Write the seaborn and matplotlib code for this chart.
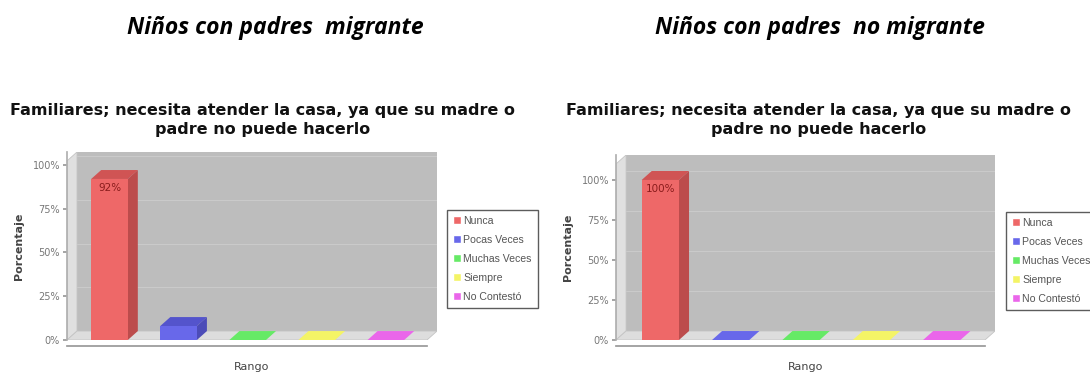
import matplotlib
matplotlib.use("Agg")
import matplotlib.pyplot as plt
from matplotlib.patches import Polygon, Rectangle
import seaborn as sns
import pandas as pd

categories = ["Nunca", "Pocas Veces", "Muchas Veces", "Siempre", "No Contestó"]
migrante = [92, 8, 0, 0, 0]
no_migrante = [100, 0, 0, 0, 0]
headings = ["Niños con padres  migrante", "Niños con padres  no migrante"]
chart_title = "Familiares; necesita atender la casa, ya que su madre o\npadre no puede hacerlo"
yticks = [0, 25, 50, 75, 100]

front_colors = ["#ee6868", "#6868ea", "#66ea66", "#f4f466", "#ea66ea"]
side_colors = ["#bc4c4c", "#4c4cb8", "#4cb84c", "#c8c84c", "#b84cb8"]
top_colors = ["#d05454", "#5454cc", "#54cc54", "#dcdc54", "#cc54cc"]

sns.set_theme(style="white")
plt.rcParams['font.family'] = ['DejaVu Sans']

fig = plt.figure(figsize=(10.9, 3.74), dpi=100)
W, H = 1090, 374


def px_axes(x0, x1, ytop, ybot):
    return fig.add_axes([x0 / W, 1 - ybot / H, (x1 - x0) / W, (ybot - ytop) / H])


def draw_panel(ax, values, xmin, xmax, ymax, dx, dy, legend_xy, label_color="#8a1c1c"):
    df = pd.DataFrame({"Rango": categories, "Porcentaje": values})
    sns.barplot(data=df, x="Rango", y="Porcentaje", hue="Rango", palette=front_colors,
                width=0.53, dodge=False, legend=True, ax=ax, zorder=3, saturation=1)
    bars = [b for c in ax.containers for b in c]
    # walls
    ax.add_patch(Rectangle((xmin + dx, dy), xmax - xmin - dx, ymax - dy,
                           facecolor="#bdbdbd", edgecolor="none", zorder=0))
    ax.add_patch(Polygon([(xmin, 0), (xmin + dx, dy), (xmin + dx, ymax), (xmin, ymax - dy)],
                         closed=True, facecolor="#e0e0e0", edgecolor="#c4c4c4", lw=0.6, zorder=0.5))
    ax.add_patch(Polygon([(xmin, 0), (xmax - dx, 0), (xmax, dy), (xmin + dx, dy)],
                         closed=True, facecolor="#dddddd", edgecolor="#c4c4c4", lw=0.6, zorder=0.5))
    for t in yticks[1:]:
        if t + dy < ymax:
            ax.plot([xmin + dx, xmax], [t + dy, t + dy], color="#cacaca", lw=0.8, zorder=0.6)
    for b in bars:
        x0, w, h = b.get_x(), b.get_width(), b.get_height()
        i = int(round(x0 + w / 2))
        b.set_edgecolor("none")
        ax.add_patch(Polygon([(x0, h), (x0 + dx, h + dy), (x0 + w + dx, h + dy), (x0 + w, h)],
                             closed=True, facecolor=top_colors[i] if h > 0 else front_colors[i],
                             edgecolor="none", zorder=2.9))
        if h > 0:
            ax.add_patch(Polygon([(x0 + w, 0), (x0 + w + dx, dy), (x0 + w + dx, h + dy), (x0 + w, h)],
                                 closed=True, facecolor=side_colors[i], edgecolor="none", zorder=2.9))
    top = values[0]
    ax.text(0, top - 2.5, f"{top}%", ha="center", va="top", fontsize=7.5, color=label_color, zorder=4)
    ax.set_xlim(xmin, xmax)
    ax.set_ylim(0, ymax)
    ax.set_yticks(yticks)
    ax.set_yticklabels([f"{t}%" for t in yticks], fontsize=7, color="#777777")
    ax.set_xticks([])
    ax.tick_params(axis="y", length=3, color="#999999", left=True, pad=2)
    ax.set_xlabel("Rango", fontsize=8, color="#444444", labelpad=12)
    ax.set_ylabel("Porcentaje", fontsize=8, color="#444444", fontweight="bold", labelpad=6)
    ax.set_facecolor("white")
    for s in ["top", "right"]:
        ax.spines[s].set_visible(False)
    ax.spines["left"].set_color("#b0b0b0")
    ax.spines["bottom"].set_color("#999999")
    ax.spines["bottom"].set_position(("outward", 4))
    ax.spines["bottom"].set_bounds(xmin, xmax - dx)
    handles, labels = ax.get_legend_handles_labels()
    leg = ax.legend(handles, labels, loc="upper left", bbox_to_anchor=legend_xy,
                    bbox_transform=fig.transFigure, frameon=True,
                    handlelength=0.8, handleheight=0.8, handletextpad=0.2,
                    borderpad=0.55, labelspacing=0.85, fancybox=False, borderaxespad=0,
                    prop={"family": ["Liberation Sans", "DejaVu Sans"], "size": 7.6})
    leg.get_frame().set_edgecolor("#333333")
    leg.get_frame().set_linewidth(1.0)
    for t in leg.get_texts():
        t.set_color("#555555")


ax1 = px_axes(67, 437, 152, 340)
draw_panel(ax1, migrante, -0.615, 4.74, 107.4, 0.145, 5.1, (447 / W, 1 - 210 / H))
ax2 = px_axes(616, 995, 155, 340)
draw_panel(ax2, no_migrante, -0.63, 4.757, 115.6, 0.143, 5.6, (1006 / W, 1 - 212 / H))

for xc, txt in [(275, headings[0]), (820, headings[1])]:
    fig.text(xc / W, 1 - 28 / H, txt, ha="center", va="center", fontsize=16.5,
             fontweight="bold", fontstyle="italic", color="black",
             family=["Open Sans", "DejaVu Sans"])
for xc in [263, 819]:
    fig.text(xc / W, 1 - 120 / H, chart_title, ha="center", va="center", fontsize=11.5,
             fontweight="bold", color="#111111", linespacing=1.3)

fig.savefig("out.png", dpi=100)
